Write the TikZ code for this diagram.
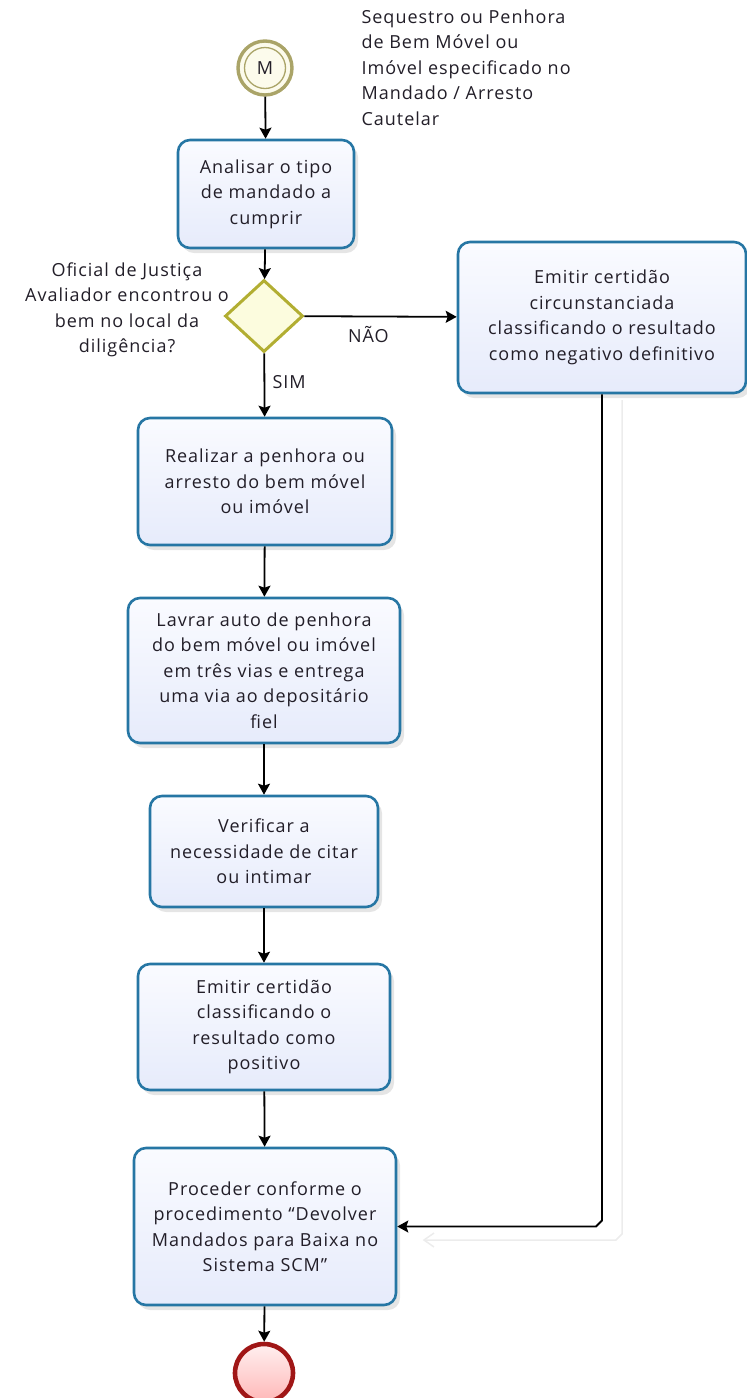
\documentclass[tikz,border=0pt]{standalone}
\usepackage{fontspec}
\setmainfont[LetterSpace=5.5]{Open Sans}
\usetikzlibrary{arrows.meta,shapes.geometric,shadows}

\definecolor{taskline}{RGB}{38,118,164}
\definecolor{tasktop}{RGB}{250,251,255}
\definecolor{taskbot}{RGB}{230,235,251}
\definecolor{gwline}{RGB}{178,174,50}
\definecolor{gwfill}{RGB}{252,252,222}
\definecolor{startline}{RGB}{170,164,104}
\definecolor{startfill}{RGB}{252,251,236}
\definecolor{endline}{RGB}{160,22,22}
\definecolor{txt}{RGB}{34,30,40}
\definecolor{ghost}{RGB}{236,236,236}

\tikzset{
  x=1pt, y=-1pt,
  lbl/.style={font=\fontsize{18}{25.5}\selectfont, text=txt},
  task/.style={lbl, draw=taskline, line width=2.6pt, rounded corners=12pt,
    top color=tasktop, bottom color=taskbot, align=center, inner sep=4pt,
    drop shadow={shadow xshift=4pt, shadow yshift=-5pt, opacity=0.10, fill=black}},
  gateway/.style={diamond, draw=gwline, line width=3pt, fill=gwfill,
    minimum width=78pt, minimum height=72pt, inner sep=0pt},
  flow/.style={draw=black, line width=1.8pt,
    -{Stealth[length=11pt, width=12pt, inset=2pt]}},
}

\begin{document}
\begin{tikzpicture}
\useasboundingbox (0,0) rectangle (747,1398);

% start event
\node[circle, draw=startline, line width=3.4pt, fill=startfill, minimum size=54pt,
      inner sep=0pt, lbl] (start) at (265,68) {M};
\draw[startline, line width=1.3pt] (start.center) circle (20.5);
\node[lbl, anchor=north west, align=left] (startlbl) at (358,6)
  {Sequestro ou Penhora\\de Bem Móvel ou\\Imóvel especificado no\\Mandado / Arresto\\Cautelar};

% tasks
\node[task, minimum width=176pt, minimum height=108pt] (t1) at (266,194)
  {Analisar o tipo\\de mandado a\\cumprir};
\node[gateway] (gw) at (264,316) {};
\node[lbl, align=center] (q) at (127,310)
  {Oficial de Justiça\\Avaliador encontrou o\\bem no local da\\diligência?};
\node[task, minimum width=288pt, minimum height=151pt] (neg) at (602,317.5)
  {Emitir certidão\\circunstanciada\\classificando o resultado\\como negativo definitivo};
\node[task, minimum width=254pt, minimum height=127pt] (t2) at (265,481.5)
  {Realizar a penhora ou\\arresto do bem móvel\\ou imóvel};
\node[task, minimum width=272pt, minimum height=145pt] (t3) at (264,670.5)
  {Lavrar auto de penhora\\do bem móvel ou imóvel\\em três vias e entrega\\uma via ao depositário\\fiel};
\node[task, minimum width=228pt, minimum height=111pt] (t4) at (264,851.5)
  {Verificar a\\necessidade de citar\\ou intimar};
\node[task, minimum width=252pt, minimum height=126pt] (t5) at (264,1027)
  {Emitir certidão\\classificando o\\resultado como\\positivo};
\node[task, minimum width=262pt, minimum height=157pt] (t6) at (265,1226.5)
  {Proceder conforme o\\procedimento “Devolver\\Mandados para Baixa no\\Sistema SCM”};

% end event
\node[circle, draw=endline, line width=4.6pt, top color=red!6, bottom color=red!28,
      minimum size=58pt, inner sep=0pt] (end) at (264,1373) {};

% faint shadow of the return connector
\draw[ghost, line width=1.5pt] (622,400) -- (622,1234) -- (616,1240) -- (424,1240);
\draw[ghost, line width=1.5pt] (434,1233) -- (424,1240) -- (434,1247);

% sequence flows
\draw[flow] (start) -- (t1);
\draw[flow] (t1) -- (gw);
\draw[flow] (gw) -- node[lbl, pos=0.42, below=6pt] (nao) {NÃO} (neg);
\draw[flow] (gw) -- node[lbl, pos=0.45, right=4pt] (sim) {SIM} (t2);
\draw[flow] (t2) -- (t3);
\draw[flow] (t3) -- (t4);
\draw[flow] (t4) -- (t5);
\draw[flow] (t5) -- (t6);
\draw[flow] (t6) -- (end);
\draw[flow] (neg.south) -- ([yshift=6pt]neg.south |- t6.east)
  -- ([xshift=-6pt]neg.south |- t6.east) -- (t6.east);
\end{tikzpicture}
\end{document}
